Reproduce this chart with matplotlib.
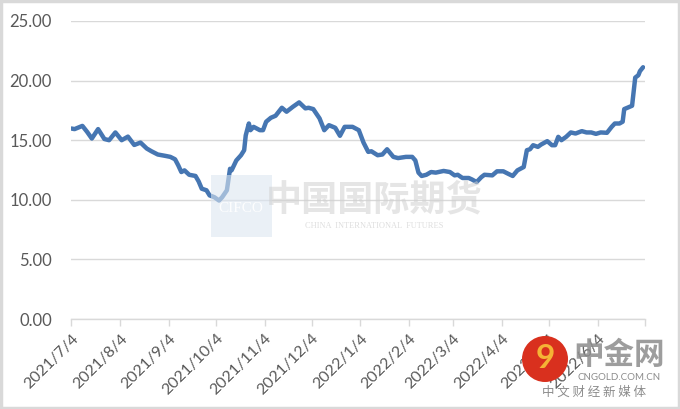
import matplotlib
matplotlib.use("Agg")
import matplotlib.pyplot as plt
import pandas as pd
from matplotlib.patches import Rectangle, Ellipse

plt.rcParams['font.family'] = ['Lato', 'Noto Sans CJK SC', 'DejaVu Sans']

dates = [
    "2021-07-04", "2021-07-06", "2021-07-11", "2021-07-14", "2021-07-17", "2021-07-21",
    "2021-07-25", "2021-07-28", "2021-08-01", "2021-08-05", "2021-08-09", "2021-08-13",
    "2021-08-17", "2021-08-21", "2021-08-24", "2021-08-28", "2021-09-02", "2021-09-05",
    "2021-09-08", "2021-09-10", "2021-09-12", "2021-09-14", "2021-09-17", "2021-09-21",
    "2021-09-23", "2021-09-25", "2021-09-28", "2021-09-30", "2021-10-03", "2021-10-06",
    "2021-10-08", "2021-10-11", "2021-10-13", "2021-10-14", "2021-10-17", "2021-10-20",
    "2021-10-22", "2021-10-23", "2021-10-25", "2021-10-26", "2021-10-28", "2021-11-01",
    "2021-11-03", "2021-11-05", "2021-11-08", "2021-11-11", "2021-11-15", "2021-11-18",
    "2021-11-22", "2021-11-26", "2021-11-30", "2021-12-02", "2021-12-05", "2021-12-09",
    "2021-12-12", "2021-12-15", "2021-12-19", "2021-12-22", "2021-12-25", "2021-12-30",
    "2022-01-01", "2022-01-03", "2022-01-06", "2022-01-09", "2022-01-11", "2022-01-15",
    "2022-01-18", "2022-01-21", "2022-01-25", "2022-01-28", "2022-02-02", "2022-02-06",
    "2022-02-08", "2022-02-10", "2022-02-12", "2022-02-15", "2022-02-18", "2022-02-21",
    "2022-02-26", "2022-03-02", "2022-03-05", "2022-03-07", "2022-03-10", "2022-03-14",
    "2022-03-16", "2022-03-19", "2022-03-22", "2022-03-24", "2022-03-29", "2022-04-01",
    "2022-04-05", "2022-04-08", "2022-04-11", "2022-04-14", "2022-04-18", "2022-04-20",
    "2022-04-22", "2022-04-24", "2022-04-27", "2022-04-29", "2022-05-03", "2022-05-06",
    "2022-05-08", "2022-05-10", "2022-05-12", "2022-05-15", "2022-05-18", "2022-05-21",
    "2022-05-25", "2022-05-28", "2022-05-31", "2022-06-03", "2022-06-06", "2022-06-10",
    "2022-06-13", "2022-06-15", "2022-06-18", "2022-06-20", "2022-06-21", "2022-06-23",
    "2022-06-26", "2022-06-28", "2022-06-30", "2022-07-01", "2022-07-03",
]
values = [
    15.98, 15.93, 16.20, 15.70, 15.14, 15.93,
    15.10, 15.00, 15.65, 15.00, 15.30, 14.60,
    14.80, 14.30, 14.07, 13.80, 13.68, 13.60,
    13.40, 12.90, 12.33, 12.47, 12.10, 12.00,
    11.55, 10.93, 10.80, 10.37, 10.22, 9.94,
    10.22, 10.80, 12.60, 12.47, 13.30, 13.74,
    14.16, 15.40, 16.40, 15.84, 16.12, 15.84,
    15.84, 16.55, 16.88, 17.05, 17.72, 17.39,
    17.80, 18.17, 17.67, 17.72, 17.61, 16.83,
    15.84, 16.26, 16.04, 15.37, 16.12, 16.12,
    15.98, 15.84, 14.80, 14.02, 14.07, 13.74,
    13.80, 14.24, 13.60, 13.50, 13.60, 13.60,
    13.30, 12.28, 12.00, 12.10, 12.33, 12.28,
    12.42, 12.33, 12.05, 12.10, 11.83, 11.83,
    11.71, 11.49, 11.90, 12.10, 12.05, 12.39,
    12.39, 12.19, 12.00, 12.47, 12.75, 14.16,
    14.24, 14.58, 14.44, 14.63, 14.92, 14.58,
    14.58, 15.28, 15.00, 15.28, 15.65, 15.56,
    15.76, 15.65, 15.65, 15.53, 15.65, 15.62,
    16.12, 16.40, 16.40, 16.55, 17.61, 17.72,
    17.89, 20.25, 20.45, 20.79, 21.12,
]
tick_dates = ["2021-07-04", "2021-08-04", "2021-09-04", "2021-10-04", "2021-11-04",
              "2021-12-04", "2022-01-04", "2022-02-04", "2022-03-04", "2022-04-04",
              "2022-05-04", "2022-06-04", "2022-07-04"]
tick_labels = ["2021/7/4", "2021/8/4", "2021/9/4", "2021/10/4", "2021/11/4",
               "2021/12/4", "2022/1/4", "2022/2/4", "2022/3/4", "2022/4/4",
               "2022/5/4", "2022/6/4", ""]
y_ticks = [0, 5, 10, 15, 20, 25]

x = pd.to_datetime(dates)
xt = pd.to_datetime(tick_dates)

W, H = 680, 409
fig = plt.figure(figsize=(6.8, 4.09), dpi=100)
ax = fig.add_axes([0.105, 0.22, 0.843, 0.7287])

grid_c = '#D9D9D9'
text_c = '#595959'

ax.plot(x, values, color='#4676B2', lw=3.2, solid_joinstyle='round',
        solid_capstyle='round', zorder=3)

ax.set_xlim(xt[0], xt[-1])
ax.set_ylim(0, 25)
ax.set_yticks(y_ticks)
ax.set_yticklabels([f"{v:.2f}" for v in y_ticks])
ax.yaxis.grid(True, color=grid_c, lw=1.0)
ax.set_axisbelow(True)
ax.set_xticks(xt)
ax.set_xticklabels(tick_labels, rotation=45, ha='right', rotation_mode='anchor')

for s in ['top', 'right', 'left']:
    ax.spines[s].set_visible(False)
ax.spines['bottom'].set_color(grid_c)
ax.spines['bottom'].set_linewidth(1.0)
ax.tick_params(axis='y', length=0, pad=14, labelsize=12, labelcolor=text_c)
ax.tick_params(axis='x', length=5, color=grid_c, width=1.0, pad=4,
               labelsize=11.5, labelcolor=text_c)

# watermark: CIFCO
fig.patches.append(Rectangle((211/W, 1-237/H), 61/W, 62/H,
                             transform=fig.transFigure, facecolor='#DCE6F1',
                             alpha=0.6, edgecolor='none', zorder=5))
fig.text(241/W, 1-209/H, "CIFCO", color='white', fontsize=11,
         ha='center', va='center', family=['Liberation Serif'], alpha=0.9, zorder=6)
fig.text(374/W, 1-200/H, "中国国际期货", color='#D0D0D0', fontsize=26,
         ha='center', va='center', family=['Noto Sans CJK SC'], weight='bold',
         alpha=0.55, zorder=6)
fig.text(374/W, 1-226/H, "CHINA  INTERNATIONAL  FUTURES", color='#D0D0D0',
         fontsize=6, ha='center', va='center', family=['Liberation Serif'],
         alpha=0.7, zorder=6)

# watermark: 中金网
fig.patches.append(Ellipse((545/W, 1-359/H), 46/W, 46/H, transform=fig.transFigure,
                           facecolor='#D9301E', edgecolor='none', zorder=7))
fig.text(545/W, 1-359/H, "9", color='#F5B335', fontsize=24, weight='bold',
         ha='center', va='center', zorder=8)
fig.text(619/W, 1-355/H, "中金网", color='#8C8C8C', fontsize=22,
         ha='center', va='center', family=['Noto Sans CJK SC'], weight='bold',
         alpha=0.85, zorder=8)
fig.text(619/W, 1-378/H, "CNGOLD.COM.CN", color='#8C8C8C', fontsize=7,
         ha='center', va='center', zorder=8)
fig.text(594/W, 1-392/H, "中 文 财 经 新 媒 体", color='#8C8C8C', fontsize=9,
         ha='center', va='center', family=['Noto Sans CJK SC'], zorder=8)

# outer frame
fig.patches.append(Rectangle((0.002, 0.003), 0.996, 0.994, transform=fig.transFigure,
                             facecolor='none', edgecolor='#D9D9D9', lw=2.5, zorder=10))

fig.savefig("out.png", dpi=100, facecolor='white')
